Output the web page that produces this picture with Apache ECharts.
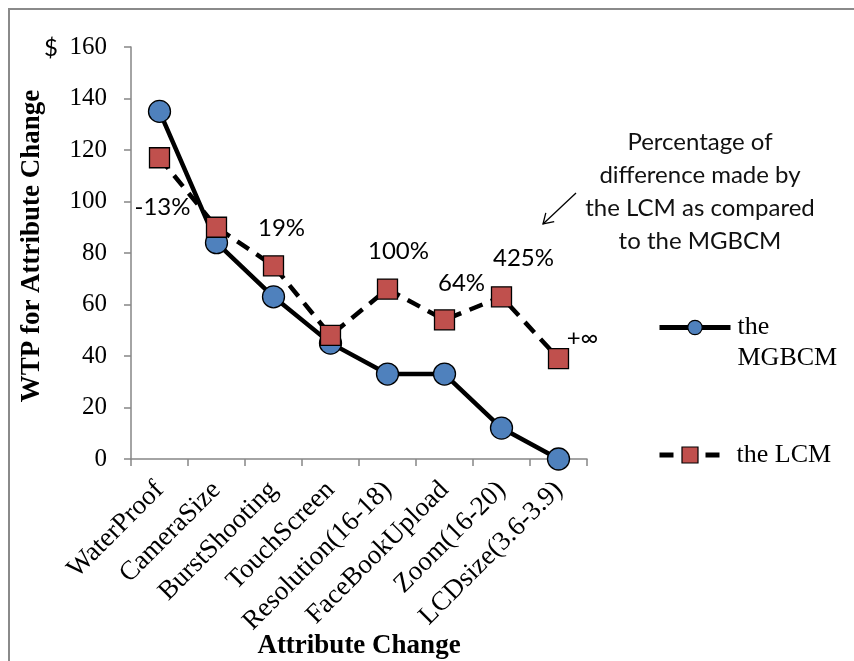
<!DOCTYPE html>
<html>
<head>
<meta charset="utf-8">
<script src="https://cdn.jsdelivr.net/npm/echarts@6/dist/echarts.min.js"></script>
<style>
  html, body { margin: 0; padding: 0; background: #fff; }
  #chart { width: 854px; height: 661px; }
</style>
</head>
<body>
<div id="chart"></div>
<script>
// Willingness to pay for each attribute change, by model
const categories = ['WaterProof', 'CameraSize', 'BurstShooting', 'TouchScreen',
  'Resolution(16-18)', 'FaceBookUpload', 'Zoom(16-20)', 'LCDsize(3.6-3.9)'];
const mgbcmValues = [135, 84, 63, 45, 33, 33, 12, 0];
const lcmValues = [117, 90, 75, 48, 66, 54, 63, 39];
// Relative difference of the LCM against the MGBCM (blank = not annotated)
const diffLabels = ['-13%', '', '19%', '', '100%', '64%', '425%', '+\u221E'];
const yTicks = { min: 0, max: 160, interval: 20 };

// Where each difference label sits relative to its LCM marker
const labelOffsets = [[3, 50], [0, 0], [8, -38], [0, 0], [11, -38], [17, -37], [22, -39], [24, -20]];

const SERIF = '"Liberation Serif", "Times New Roman", serif';
const SANS = 'Lato, "Open Sans", sans-serif';
const AXIS_GREY = '#868686';

const lcmData = lcmValues.map((v, i) => ({
  value: v,
  label: {
    show: diffLabels[i] !== '',
    formatter: diffLabels[i],
    offset: labelOffsets[i]
  }
}));

const chart = echarts.init(document.getElementById('chart'), null, { renderer: 'canvas' });

chart.setOption({
  backgroundColor: '#fff',
  animation: false,
  grid: { left: 131, top: 47, right: 267, bottom: 202, containLabel: false, outerBoundsMode: 'none' },
  xAxis: {
    type: 'category',
    data: categories,
    boundaryGap: true,
    name: 'Attribute Change',
    nameLocation: 'middle',
    nameGap: 174,
    nameMoveOverlap: false,
    nameTextStyle: { fontFamily: SERIF, fontSize: 27, fontWeight: 'bold', color: '#000' },
    axisLine: { lineStyle: { color: AXIS_GREY, width: 1.5 } },
    axisTick: { show: true, length: 7, lineStyle: { color: AXIS_GREY, width: 1.5 } },
    axisLabel: { rotate: 45, margin: 27, interval: 0, fontFamily: SERIF, fontSize: 27, color: '#000' },
    splitLine: { show: false }
  },
  yAxis: {
    type: 'value',
    min: yTicks.min,
    max: yTicks.max,
    interval: yTicks.interval,
    axisLine: { show: true, lineStyle: { color: AXIS_GREY, width: 1.5 } },
    axisTick: { show: true, length: 7, lineStyle: { color: AXIS_GREY, width: 1.5 } },
    axisLabel: { margin: 24, fontFamily: SERIF, fontSize: 25, color: '#000' },
    splitLine: { show: false }
  },
  legend: [
    {
      data: ['the MGBCM'],
      left: 657, top: 281, padding: 0,
      itemWidth: 71, itemHeight: 18,
      // leading blank line keeps the first word level with the icon
      formatter: n => '\n' + n.replace(' ', '\n'),
      lineStyle: { width: 5 },
      itemStyle: { borderWidth: 1.2 },
      textStyle: { fontFamily: SERIF, fontSize: 26, color: '#000', lineHeight: 31, padding: [0, 0, 0, 2] }
    },
    {
      data: ['the LCM'],
      left: 657, top: 440, padding: 0,
      itemWidth: 61, itemHeight: 20,
      lineStyle: { width: 5 },
      itemStyle: { borderWidth: 1.2 },
      textStyle: { fontFamily: SERIF, fontSize: 26, color: '#000', lineHeight: 30, padding: [0, 0, 0, 11] }
    }
  ],
  series: [
    {
      name: 'the MGBCM',
      type: 'line',
      data: mgbcmValues,
      symbol: 'circle',
      symbolSize: 22,
      lineStyle: { color: '#000', width: 4.5 },
      itemStyle: { color: '#4F81BD', borderColor: '#000', borderWidth: 1.3 },
      z: 2
    },
    {
      name: 'the LCM',
      type: 'line',
      data: lcmData,
      symbol: 'rect',
      symbolSize: 20,
      lineStyle: { color: '#000', width: 4.5, type: [14, 9] },
      itemStyle: { color: '#C0504D', borderColor: '#000', borderWidth: 1.3 },
      label: {
        position: 'inside',
        fontFamily: SANS,
        fontSize: 24,
        color: '#000'
      },
      z: 3
    }
  ],
  graphic: [
    // outer frame
    { type: 'rect', shape: { x: 9, y: 9, width: 900, height: 700 }, style: { fill: 'none', stroke: '#8a8a8a', lineWidth: 2 }, silent: true },
    // currency mark above the value axis
    { type: 'text', x: 51, y: 48, style: { text: '$', font: '24px ' + SANS, fill: '#000', align: 'center', verticalAlign: 'middle' } },
    // value axis title
    { type: 'text', x: 32, y: 246, rotation: Math.PI / 2,
      style: { text: 'WTP for Attribute Change', font: 'bold 27px ' + SERIF, fill: '#000', align: 'center', verticalAlign: 'middle' } },
    // note explaining the percentages
    { type: 'text', x: 700, y: 126,
      style: { text: 'Percentage of\ndifference made by\nthe LCM as compared\nto the MGBCM', font: '24px ' + SANS,
        fill: '#111', align: 'center', verticalAlign: 'top', lineHeight: 33 } },
    // pointer from the note towards the labels
    { type: 'line', shape: { x1: 576, y1: 193, x2: 543, y2: 224 }, style: { stroke: '#000', lineWidth: 1.3 } },
    { type: 'polyline', shape: { points: [[545.8, 212.8], [543, 224], [554.2, 221.6]] }, style: { stroke: '#000', lineWidth: 1.3, fill: 'none' } }
  ]
});
</script>
</body>
</html>
